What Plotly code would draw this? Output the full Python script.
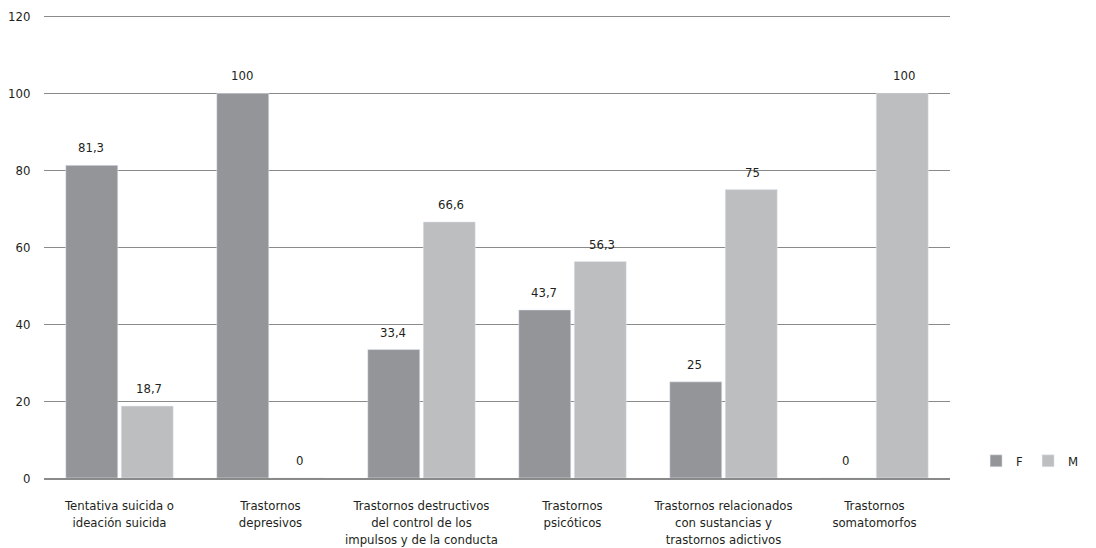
import plotly.graph_objects as go

categories = [
    "Tentativa suicida o<br>ideación suicida",
    "Trastornos<br>depresivos",
    "Trastornos destructivos<br>del control de los<br>impulsos y de la conducta",
    "Trastornos<br>psicóticos",
    "Trastornos relacionados<br>con sustancias y<br>trastornos adictivos",
    "Trastornos<br>somatomorfos",
]
f_values = [81.3, 100, 33.4, 43.7, 25, 0]
m_values = [18.7, 0, 66.6, 56.3, 75, 100]
y_ticks = [0, 20, 40, 60, 80, 100, 120]

FONT = "Liberation Sans Narrow, DejaVu Sans Condensed, Arial Narrow, sans-serif"
F_COLOR = "#939598"
M_COLOR = "#bcbec0"
TEXT_COLOR = "#231f20"
GRID = "#8a8a8a"

fig = go.Figure()
fig.add_trace(go.Bar(name="F", x=categories, y=f_values, marker_color=F_COLOR))
fig.add_trace(go.Bar(name="M", x=categories, y=m_values, marker_color=M_COLOR))

def fmt(v):
    return ("%g" % v).replace(".", ",")

annotations = []
for cat, fv, mv in zip(categories, f_values, m_values):
    for v, shift in ((fv, -29), (mv, 29)):
        annotations.append(dict(
            x=cat, y=v, xref="x", yref="y", text=fmt(v), showarrow=False,
            xshift=shift, yshift=8, yanchor="bottom",
            font=dict(family=FONT, size=13, color=TEXT_COLOR),
        ))

fig.update_layout(
    width=1088, height=540,
    margin=dict(l=36, r=146, t=7, b=70),
    paper_bgcolor="white", plot_bgcolor="white",
    barmode="group", bargap=0.265, bargroupgap=0.063,
    font=dict(family=FONT, size=13, color=TEXT_COLOR),
    annotations=annotations,
    legend=dict(orientation="h", x=1.148, y=0.037, xanchor="right", yanchor="middle",
                font=dict(family=FONT, size=13, color=TEXT_COLOR),
                itemwidth=30, bgcolor="rgba(0,0,0,0)"),
    separators=",.",
)
fig.update_xaxes(
    automargin=False,
    showgrid=False, showline=True, linecolor=GRID, linewidth=1.5,
    ticks="outside", ticklen=15, tickcolor="rgba(0,0,0,0)",
    tickfont=dict(family=FONT, size=13, color=TEXT_COLOR),
)
fig.update_yaxes(
    automargin=False,
    range=[0, 120.4], tickvals=y_ticks, showgrid=True, gridcolor=GRID, gridwidth=1.2,
    zeroline=False, showline=False,
    ticks="outside", ticklen=10, tickcolor="rgba(0,0,0,0)",
    tickfont=dict(family=FONT, size=13, color=TEXT_COLOR),
)

fig.write_html("out.html")
